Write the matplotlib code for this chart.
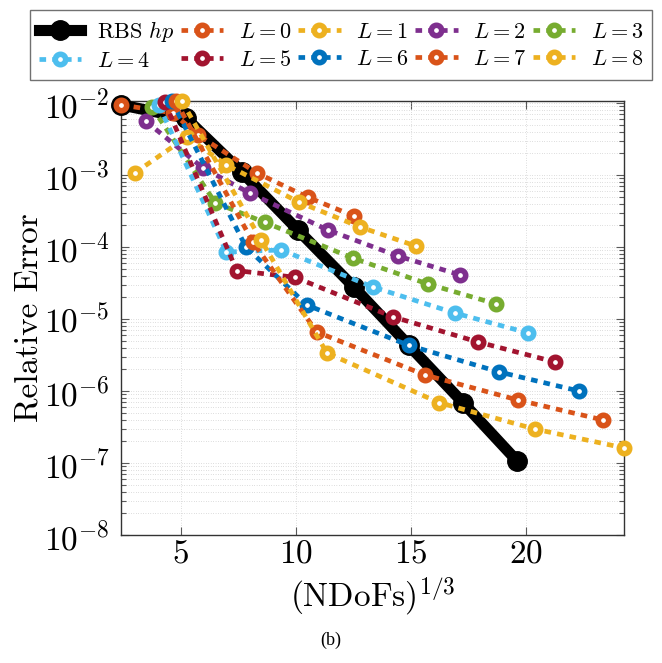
import matplotlib.pyplot as plt
from matplotlib.ticker import LogLocator, NullFormatter

plt.rcParams["font.family"] = "cmr10"
plt.rcParams["mathtext.fontset"] = "cm"
plt.rcParams["axes.formatter.use_mathtext"] = True

# (NDoFs)^(1/3) against relative error
rbs_x = [2.40, 5.22, 7.65, 10.09, 12.52, 14.91, 17.26, 19.61]
rbs_err = [9.4e-3, 6.2e-3, 1.10e-3, 1.72e-4, 2.78e-5, 4.3e-6, 6.9e-7, 1.07e-7]

l0_x = [2.40, 4.65, 5.74, 8.30, 10.52, 12.52]
l0_err = [9.4e-3, 7.3e-3, 3.6e-3, 1.07e-3, 4.9e-4, 2.7e-4]
l1_x = [3.00, 5.26, 6.98, 10.13, 12.78, 15.22]
l1_err = [1.07e-3, 3.37e-3, 1.38e-3, 4.2e-4, 1.9e-4, 1.03e-4]
l2_x = [3.48, 5.96, 8.00, 11.39, 14.43, 17.13]
l2_err = [5.6e-3, 1.25e-3, 5.6e-4, 1.72e-4, 7.5e-5, 4.1e-5]
l3_x = [3.74, 6.50, 8.65, 12.48, 15.74, 18.70]
l3_err = [8.8e-3, 4.1e-4, 2.2e-4, 7.0e-5, 3.06e-5, 1.62e-5]
l4_x = [4.04, 6.98, 9.37, 13.35, 16.91, 20.09]
l4_err = [9.4e-3, 8.5e-5, 9.1e-5, 2.78e-5, 1.21e-5, 6.4e-6]
l5_x = [4.30, 7.43, 9.96, 14.22, 17.91, 21.26]
l5_err = [1.03e-2, 4.7e-5, 3.8e-5, 1.07e-5, 4.8e-6, 2.53e-6]
l6_x = [4.61, 7.83, 10.48, 14.91, 18.83, 22.30]
l6_err = [1.066e-2, 1.0e-4, 1.56e-5, 4.3e-6, 1.84e-6, 1.0e-6]
l7_x = [4.78, 8.13, 10.91, 15.61, 19.65, 23.35]
l7_err = [1.066e-2, 1.17e-4, 6.6e-6, 1.67e-6, 7.5e-7, 3.96e-7]
l8_x = [5.04, 8.48, 11.35, 16.22, 20.39, 24.26]
l8_err = [1.066e-2, 1.26e-4, 3.37e-6, 6.9e-7, 2.96e-7, 1.62e-7]

levels = [
    (l0_x, l0_err), (l1_x, l1_err), (l2_x, l2_err), (l3_x, l3_err), (l4_x, l4_err),
    (l5_x, l5_err), (l6_x, l6_err), (l7_x, l7_err), (l8_x, l8_err),
]
level_colors = [
    "#D95319", "#EDB120", "#7E2F8E", "#77AC30", "#4DBEEE",
    "#A2142F", "#0072BD", "#D95319", "#EDB120",
]

fig = plt.figure(figsize=(6.62, 6.63), dpi=100)
ax = fig.add_axes([121 / 662, 1 - 535 / 663, 503 / 662, 434 / 663])

handles = []
h, = ax.plot(rbs_x, rbs_err, color="black", lw=8, marker="o", ms=14,
             label="RBS $hp$", clip_on=False, zorder=3)
handles.append(h)

for k, ((x, err), c) in enumerate(zip(levels, level_colors)):
    h, = ax.plot(x, err, color=c, lw=3.4, linestyle=(0, (1.4, 1.3)),
                 marker="o", ms=7.5, mew=4, mfc="white", mec=c,
                 label=f"$L = {k}$", clip_on=False, zorder=4 + k)
    handles.append(h)

ax.set_yscale("log")
all_x = rbs_x + [v for x, _ in levels for v in x]
ax.set_xlim(min(all_x), max(all_x))
ax.set_ylim(1e-8, 1.066e-2)
ax.set_xticks([5, 10, 15, 20])
ax.yaxis.set_major_locator(LogLocator(base=10, numticks=12))
ax.yaxis.set_minor_locator(LogLocator(base=10, subs=range(2, 10), numticks=12))
ax.yaxis.set_minor_formatter(NullFormatter())

ax.grid(True, which="both", linestyle=(0, (0.7, 2.2)), color="0.75", lw=0.6)
ax.set_axisbelow(True)
ax.tick_params(which="both", direction="in", top=True, right=True,
               labelsize=24, width=0.8, color="0.35")
ax.tick_params(which="major", length=6)
ax.tick_params(axis="x", which="major", pad=3)
ax.tick_params(axis="y", which="major", pad=8)
ax.tick_params(which="minor", length=3.5)
for s in ax.spines.values():
    s.set_linewidth(1.0)
    s.set_color("0.2")

ax.set_xlabel("(NDoFs)$^{1/3}$", fontsize=24, labelpad=4)
ax.set_ylabel("Relative Error", fontsize=24, labelpad=0)

# legend in row order across five columns
order = [0, 5, 1, 6, 2, 7, 3, 8, 4, 9]
leg = fig.legend([handles[i] for i in order],
                 [handles[i].get_label() for i in order],
                 ncol=5, loc="upper left", mode="expand",
                 bbox_to_anchor=(30 / 662, 1 - 10 / 663, 622 / 662, 0),
                 fontsize=16, frameon=True, fancybox=False, edgecolor="0.3",
                 handlelength=1.9, handletextpad=0.7, columnspacing=0.4,
                 borderpad=0.4, labelspacing=0.35, borderaxespad=0)
leg.get_frame().set_linewidth(1.0)

fig.text(331 / 662, 1 - 640 / 663, "(b)", fontsize=13, family="Liberation Serif",
         ha="center", va="center")

fig.savefig("out.png", dpi=100)
